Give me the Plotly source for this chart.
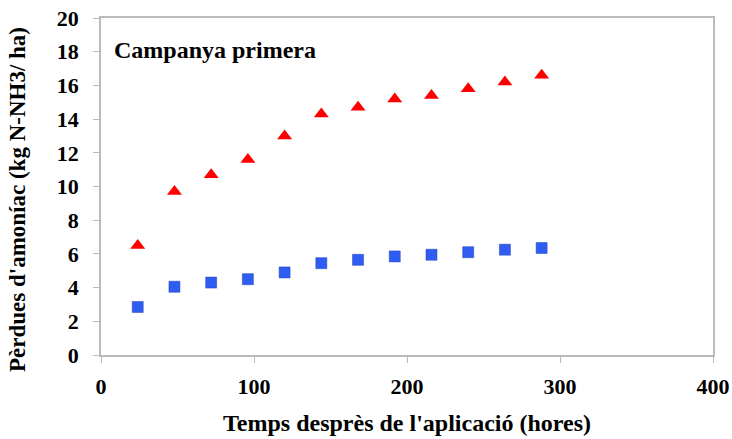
import plotly.graph_objects as go

hores = [24, 48, 72, 96, 120, 144, 168, 192, 216, 240, 264, 288]
triangles = [6.5, 9.7, 10.7, 11.6, 13.0, 14.3, 14.7, 15.2, 15.4, 15.8, 16.2, 16.6]
quadrats = [2.85, 4.05, 4.3, 4.5, 4.9, 5.45, 5.65, 5.85, 5.95, 6.1, 6.25, 6.35]

font = "Liberation Serif, Times New Roman, serif"

fig = go.Figure()
fig.add_trace(go.Scatter(x=hores, y=triangles, mode="markers",
                         marker=dict(symbol="triangle-up", size=13, color="#FF0000",
                                     line=dict(width=0))))
fig.add_trace(go.Scatter(x=hores, y=quadrats, mode="markers",
                         marker=dict(symbol="square", size=11, color="#2F5DF2",
                                     line=dict(width=0.5, color="#1E3FC0"))))

fig.update_layout(
    width=732, height=439,
    margin=dict(l=101, r=19, t=18, b=84, autoexpand=False),
    plot_bgcolor="white", paper_bgcolor="white",
    showlegend=False,
    font=dict(family=font, size=22, color="black"),
    annotations=[
        dict(text="<b>Campanya primera</b>", x=0.018, y=0.905,
             xref="paper", yref="paper", xanchor="left", yanchor="middle",
             showarrow=False, font=dict(family=font, size=24, color="black")),
        dict(text="<b>Temps desprès de l'aplicació (hores)</b>", x=0.5, y=0,
             xref="paper", yref="paper", xanchor="center", yanchor="middle",
             yshift=-68, showarrow=False, font=dict(family=font, size=24, color="black")),
        dict(text="<b>Pèrdues d'amoníac (kg N-NH3/ ha)</b>", x=0, y=0.46,
             xref="paper", yref="paper", xanchor="center", yanchor="middle",
             xshift=-83, textangle=-90, showarrow=False,
             font=dict(family=font, size=23, color="black")),
    ],
)
fig.update_xaxes(range=[0, 400], tickvals=[0, 100, 200, 300, 400],
                 ticktext=["<b>0</b>", "<b>100</b>", "<b>200</b>", "<b>300</b>", "<b>400</b>"],
                 showgrid=False, zeroline=False, showline=True, linecolor="#BBBBBB", linewidth=1.5,
                 mirror=True, ticks="outside", ticklen=6, tickcolor="#BBBBBB", automargin=False,
                 tickfont=dict(family=font, size=22), ticklabelstandoff=5,
                 ticklabeloverflow="allow")
fig.update_yaxes(range=[0, 20], tickvals=list(range(0, 21, 2)),
                 ticktext=["<b>%d</b>" % v for v in range(0, 21, 2)],
                 showgrid=False, zeroline=False, showline=True, linecolor="#BBBBBB", linewidth=1.5,
                 mirror=True, ticks="outside", ticklen=6, tickcolor="#BBBBBB", automargin=False,
                 tickfont=dict(family=font, size=22), ticklabelstandoff=10,
                 ticklabeloverflow="allow")

fig.write_html("out.html", config={"displayModeBar": False},
               post_script="document.body.style.margin='0';")
